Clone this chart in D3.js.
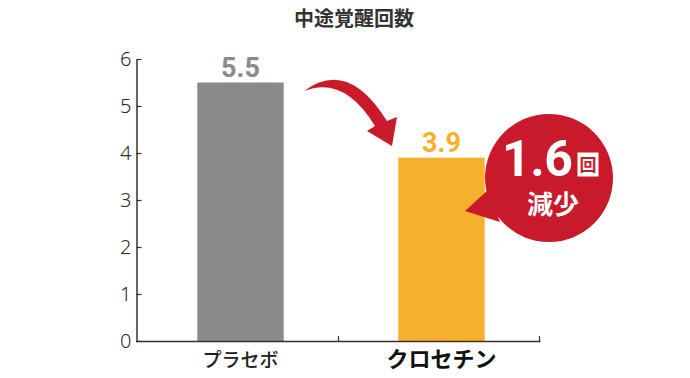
<!DOCTYPE html>
<html><head><meta charset="utf-8">
<script src="https://cdn.jsdelivr.net/npm/d3@7"></script>
<style>
html,body{margin:0;padding:0;background:#fff;}
svg{display:block;}
</style></head>
<body>
<svg id="c" width="690" height="378"></svg>
<script>
const title = "中途覚醒回数";
const categories = ["プラセボ", "クロセチン"];
const values = [5.5, 3.9];
const valueLabels = ["5.5", "3.9"];
const yTicks = [0, 1, 2, 3, 4, 5, 6];
const barColors = ["#8a8a8a", "#f6b02c"];
const diffValue = "1.6";
const diffUnit = "回";
const diffText = "減少";

const svg = d3.select("#c");
const jp = "'Noto Sans CJK JP','Noto Sans',sans-serif";
const axisColor = "#3a2f2b";
const red = "#c91a2c";

const y = d3.scaleLinear().domain([0, 6]).range([341, 59]);
const x = d3.scaleBand().domain(categories).range([137, 539]).padding(0);
const bw = x.bandwidth();
const barW = bw * 0.43;
const shift = 3;

// title
svg.append("text").attr("x", 354).attr("y", 26).attr("text-anchor", "middle")
  .attr("font-family", jp).attr("font-weight", 700).attr("font-size", 20)
  .attr("fill", "#333").text(title);

// bars
svg.selectAll("rect.bar").data(values).join("rect").attr("class", "bar")
  .attr("x", (d, i) => x(categories[i]) + (bw - barW) / 2 + shift)
  .attr("width", barW)
  .attr("y", d => y(d))
  .attr("height", d => y(0) - y(d))
  .attr("fill", (d, i) => barColors[i]);

// value labels
svg.selectAll("text.val").data(values).join("text").attr("class", "val")
  .attr("x", (d, i) => x(categories[i]) + bw / 2 + shift)
  .attr("y", d => y(d) - 6)
  .attr("text-anchor", "middle")
  .attr("font-family", "Roboto, 'Noto Sans', sans-serif").attr("font-weight", 700)
  .attr("font-size", 27)
  .attr("fill", (d, i) => barColors[i])
  .text((d, i) => valueLabels[i]);

// y axis
const yAxis = d3.axisLeft(y).tickValues(yTicks).tickFormat(d3.format("d"))
  .tickSize(-5).tickSizeOuter(0).tickPadding(5);
const gy = svg.append("g").attr("transform", "translate(136.5,0)").call(yAxis);
gy.select(".domain").attr("stroke", axisColor).attr("stroke-width", 1.5);
gy.selectAll(".tick line").attr("stroke", axisColor).attr("stroke-width", 1.2);
gy.selectAll(".tick text").attr("font-family", "'Noto Sans', sans-serif")
  .attr("font-size", 20).attr("fill", "#2a2a2a").attr("font-weight", 300);

// x axis
const gx = svg.append("g");
gx.append("line").attr("x1", 136).attr("x2", x.range()[1] + 1.5)
  .attr("y1", y(0) + 0.5).attr("y2", y(0) + 0.5)
  .attr("stroke", axisColor).attr("stroke-width", 1.5);
gx.selectAll("line.xt").data(categories).join("line").attr("class", "xt")
  .attr("x1", d => x(d) + bw + 0.5).attr("x2", d => x(d) + bw + 0.5)
  .attr("y1", y(0)).attr("y2", y(0) - 5)
  .attr("stroke", axisColor).attr("stroke-width", 1.2);
gx.selectAll("text.xl").data(categories).join("text").attr("class", "xl")
  .attr("x", d => x(d) + bw / 2 + shift)
  .attr("y", 367)
  .attr("text-anchor", "middle")
  .attr("font-family", jp)
  .attr("font-weight", (d, i) => i === 1 ? 700 : 500)
  .attr("font-size", (d, i) => i === 1 ? 22 : 19)
  .attr("fill", (d, i) => i === 1 ? "#111" : "#222")
  .text(d => d);

// curved arrow
svg.append("path")
  .attr("d", "M304,91 Q348,58 387,121 L397,117 L392,146 L367,131 L375,126 Q344,75 304,91 Z")
  .attr("fill", red);

// bubble
const cx = 549, cy = 178, r = 64;
svg.append("path")
  .attr("d", `M488,190 L465,211 L500,222 Z`).attr("fill", red);
svg.append("circle").attr("cx", cx).attr("cy", cy).attr("r", r).attr("fill", red);

svg.append("text").attr("x", 502).attr("y", 176).attr("fill", "#fff")
  .attr("font-family", "Roboto, 'Noto Sans', sans-serif").attr("font-weight", 700)
  .attr("font-size", 50).attr("letter-spacing", -0.5).text(diffValue);
svg.append("rect").attr("x", 577.5).attr("y", 152.5).attr("width", 21).attr("height", 24)
  .attr("fill", "#fff");
svg.append("text").attr("x", 588).attr("y", 171).attr("text-anchor", "middle")
  .attr("font-family", jp).attr("font-weight", 700).attr("font-size", 17)
  .attr("fill", red).text(diffUnit);
svg.append("text").attr("x", 553).attr("y", 214).attr("text-anchor", "middle")
  .attr("font-family", jp).attr("font-weight", 700).attr("font-size", 26)
  .attr("fill", "#fff").text(diffText);
</script>
</body></html>
